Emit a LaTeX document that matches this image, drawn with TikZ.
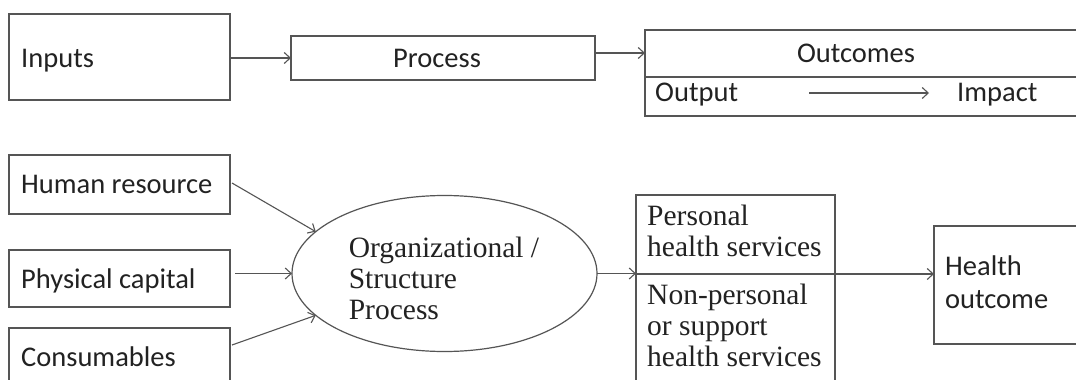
\documentclass[tikz,border=0pt]{standalone}
\usepackage{fontspec}
\setmainfont{Liberation Serif}
\newfontfamily\carl{Carlito}
\usetikzlibrary{arrows.meta,shapes.geometric}
\definecolor{ln}{HTML}{555555}
\definecolor{tx}{HTML}{222222}
\tikzset{
  box/.style={draw=ln, line width=1.2pt, rectangle, inner sep=0pt, outer sep=0pt},
  stxt/.style={anchor=base west, inner sep=0pt, text=tx, font=\carl\fontsize{28.5}{33}\selectfont},
  rtxt/.style={inner sep=0pt, text=tx, align=left, font=\fontsize{29.5}{31}\selectfont},
  arr/.style={draw=ln, line width=1.1pt, -{Straight Barb[length=6pt,width=11pt,line width=1.1pt]}},
}
\begin{document}
\begin{tikzpicture}[x=1pt,y=-1pt]
\clip (0,0) rectangle (1076,380);
\fill[white] (0,0) rectangle (1076,380);
% top row
\node[box, minimum width=221pt, minimum height=86pt] (inputs) at (119.5,57) {};
\node[stxt] (inputsT) at (21,67) {Inputs};
\node[box, minimum width=304pt, minimum height=44pt] (process) at (443,58) {};
\node[stxt, anchor=base] (processT) at (437,67) {Process};
\node[box, minimum width=440pt, minimum height=86pt] (outc) at (865,73) {};
\coordinate (divL) at (645,77);
\coordinate (divR) at (1085,77);
\draw[ln, line width=1.2pt] (divL) -- (divR);
\node[stxt, anchor=base] (outcT) at (856,62) {Outcomes};
\node[stxt] (outputT) at (655,101) {Output};
\node[stxt] (impactT) at (957,101) {Impact};
\coordinate (oa) at (809,93);
\coordinate (ob) at (929,93);
\draw[arr] (oa) -- (ob);
\draw[arr] (inputs.east |- process.west) -- (process.west);
\draw[arr] (process.east |- 0,53) -- (outc.west |- 0,53);
% bottom row
\node[box, minimum width=221pt, minimum height=59pt] (hr) at (119.5,184.5) {};
\node[stxt] (hrT) at (21,193) {Human resource};
\node[box, minimum width=221pt, minimum height=57pt] (pc) at (119.5,278.5) {};
\node[stxt] (pcT) at (21,288) {Physical capital};
\node[box, minimum width=221pt, minimum height=72pt] (cons) at (119.5,364) {};
\node[stxt] (consT) at (21,366) {Consumables};
\node[draw=ln, line width=1.2pt, ellipse, inner sep=0pt, outer sep=0pt,
      minimum width=305pt, minimum height=156pt] (ell) at (444.5,273.5) {};
\node[rtxt] (ellT) at (444,278) {Organizational /\\Structure\\Process};
\draw[arr] ([xshift=2pt,yshift=1.5pt]hr.east) -- (ell.162);
\draw[arr] ([xshift=5pt,yshift=5pt]pc.east) -- (ell.west);
\draw[arr] ([xshift=2pt,yshift=19pt]cons.east) -- (ell.198);
\node[box, minimum width=199pt, minimum height=200pt] (serv) at (735.5,295) {};
\coordinate (sdL) at (636,274);
\coordinate (sdR) at (835,274);
\draw[ln, line width=1.2pt] (sdL) -- (sdR);
\node[rtxt, anchor=north west] (persT) at (647,205) {Personal\\health services};
\node[rtxt, anchor=north west] (npT) at (647,284) {Non-personal\\or support\\health services};
\node[box, minimum width=160pt, minimum height=118pt] (ho) at (1014,285) {};
\node[stxt, align=left, anchor=north west] (hoT) at (945,256) {Health\\outcome};
\draw[arr] (ell.east) -- (serv.west |- ell.east);
\draw[arr] (sdR) -- (ho.west |- sdR);
\end{tikzpicture}
\end{document}
